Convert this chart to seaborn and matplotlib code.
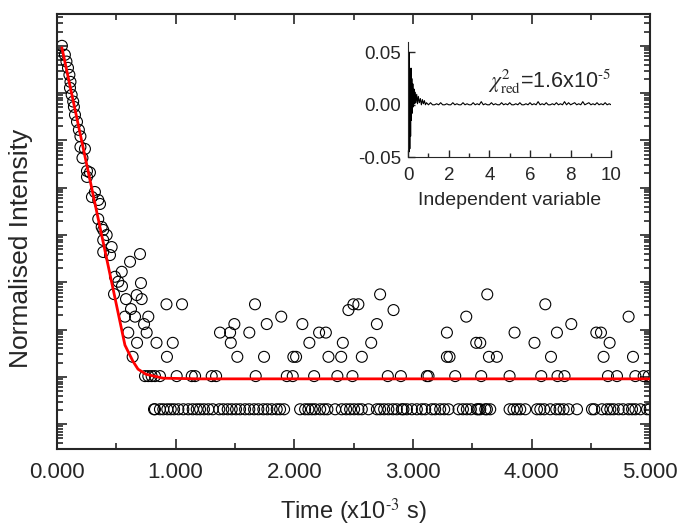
import matplotlib.pyplot as plt
import numpy as np
import pandas as pd
import seaborn as sns
from matplotlib.ticker import LogLocator, NullFormatter, MultipleLocator, FormatStrFormatter

# decay part of the measured trace (time in ms, normalised intensity)
decay_t = [0.042, 0.067, 0.080, 0.093, 0.105, 0.114, 0.110, 0.124, 0.137, 0.143,
           0.152, 0.169, 0.185, 0.198, 0.198, 0.236, 0.215, 0.253, 0.278, 0.253,
           0.320, 0.295, 0.348, 0.363, 0.348, 0.377, 0.390, 0.419, 0.390, 0.461,
           0.390, 0.447, 0.700, 0.616, 0.546, 0.489, 0.517, 0.548, 0.708, 0.481,
           0.672, 0.582, 0.714, 0.624]
decay_v = [1.0, 0.645, 0.465, 0.342, 0.243, 0.173, 0.129, 0.0918, 0.0663, 0.0512,
           0.0347, 0.0247, 0.0167, 0.0122, 0.00728, 0.00661, 0.00426, 0.00226, 0.00210, 0.00169,
           8.13e-4, 6.37e-4, 5.5e-4, 4.53e-4, 2.18e-4, 1.48e-4, 1.28e-4, 1.0e-4, 7.83e-5, 5.57e-5,
           4.37e-5, 3.77e-5, 3.96e-5, 2.72e-5, 1.67e-5, 1.31e-5, 1.03e-5, 8.33e-6, 9.64e-6, 5.64e-6,
           5.37e-6, 4.42e-6, 4.42e-6, 2.72e-6]

# background part: discrete intensity levels and the times found on each
floor_levels = [5.56e-6, 3.43e-6, 2.59e-6, 1.88e-6, 1.31e-6, 8.65e-7, 5.26e-7, 2.66e-7, 1.04e-7, 2.07e-8]
floor_times = [
    [2.723, 3.626],
    [0.923, 1.054, 1.669, 2.498, 2.540, 4.115],
    [2.456, 2.836],
    [0.573, 0.658, 0.770, 1.89, 3.449, 4.817],
    [0.734, 1.495, 1.768, 2.068, 2.696, 4.334],
    [0.601, 0.756, 1.374, 1.459, 1.621, 2.209, 2.266, 3.286, 3.856, 4.213, 4.545, 4.584],
    [0.675, 0.839, 0.976, 1.465, 2.127, 2.409, 2.648, 3.533, 3.567, 4.024, 4.657],
    [0.638, 0.927, 1.52, 1.745, 1.992, 2.015, 2.288, 2.395, 2.569, 3.286, 3.308, 3.64,
     3.707, 4.163, 4.606, 4.854],
    [0.742, 0.770, 0.798, 0.826, 0.868, 1.009, 1.136, 1.164, 1.304, 1.341, 1.675, 1.937,
     1.987, 2.167, 2.363, 2.490, 2.788, 2.898, 3.117, 3.131, 3.356, 3.575, 3.814, 4.081,
     4.218, 4.277, 4.643, 4.719, 4.874, 4.944, 4.986],
    [0.818, 0.826, 0.868, 0.896, 0.930, 0.959, 0.987, 1.023, 1.065, 1.107, 1.144, 1.178,
     1.206, 1.239, 1.276, 1.313, 1.368, 1.402, 1.439, 1.473, 1.509, 1.543, 1.585, 1.621,
     1.661, 1.697, 1.739, 1.773, 1.810, 1.852, 1.880, 1.914, 2.049, 2.091, 2.119, 2.148,
     2.175, 2.218, 2.251, 2.279, 2.344, 2.400, 2.437, 2.470, 2.504, 2.540, 2.569, 2.625,
     2.696, 2.723, 2.757, 2.793, 2.831, 2.864, 2.906, 2.920, 2.949, 2.991, 3.033, 3.075,
     3.103, 3.159, 3.187, 3.229, 3.263, 3.299, 3.384, 3.421, 3.454, 3.488, 3.539, 3.552,
     3.567, 3.609, 3.623, 3.651, 3.814, 3.847, 3.876, 3.904, 3.946, 4.045, 4.073, 4.106,
     4.157, 4.207, 4.235, 4.269, 4.311, 4.382, 4.508, 4.528, 4.593, 4.635, 4.663, 4.691,
     4.733, 4.770, 4.817, 4.846, 4.874, 4.916, 4.972, 4.995],
]

# fitted curve
fit_t = [0.042, 0.15, 0.30, 0.45, 0.573, 0.64, 0.683, 0.75, 0.894, 1.2, 5.0]
fit_v = [0.91, 0.048, 8.1e-4, 1.36e-5, 4.7e-7, 2.15e-7, 1.46e-7, 1.14e-7, 9.4e-8, 9.1e-8, 9.1e-8]

# residuals shown in the inset
res_t = [0.0, 0.02, 0.04, 0.06, 0.08, 0.10, 0.12, 0.14, 0.16, 0.18, 0.20, 0.23, 0.26,
         0.29, 0.32, 0.35, 0.38, 0.42, 0.46, 0.50, 0.55, 0.60, 0.65, 0.70, 0.75, 0.80,
         0.85, 0.90, 1.0,
         1.1, 1.2, 1.3, 1.4, 1.5, 1.6, 1.7, 1.8, 1.9, 2.0, 2.1, 2.2, 2.3, 2.4, 2.5, 2.6,
         2.7, 2.8, 2.9, 3.0, 3.1, 3.2, 3.3, 3.4, 3.5, 3.6, 3.7, 3.8, 3.9, 4.0, 4.1, 4.2,
         4.3, 4.4, 4.5, 4.6, 4.7, 4.8, 4.9, 5.0, 5.1, 5.2, 5.3, 5.4, 5.5, 5.6, 5.7, 5.8,
         5.9, 6.0, 6.1, 6.2, 6.3, 6.4, 6.5, 6.6, 6.7, 6.8, 6.9, 7.0, 7.1, 7.2, 7.3, 7.4,
         7.5, 7.6, 7.7, 7.8, 7.9, 8.0, 8.1, 8.2, 8.3, 8.4, 8.5, 8.6, 8.7, 8.8, 8.9, 9.0,
         9.1, 9.2, 9.3, 9.4, 9.5, 9.6, 9.7, 9.8, 9.9, 10.0]
res_v = [0.0, 0.048, -0.045, 0.05, -0.042, 0.03, -0.03, 0.035, -0.015, 0.025, -0.008, 0.02, -0.002,
         0.015, 0.001, 0.012, 0.002, 0.010, 0.001, 0.008, 0.002, 0.006, 0.0, 0.005, 0.001, 0.004,
         0.0, 0.002, 0.0,
         0.002, 0.0, 0.0, 0.001, 0.0, 0.002, 0.0, 0.0, 0.001, 0.0, 0.0, 0.002, 0.0, 0.001, 0.0, 0.0,
         0.002, 0.0, 0.001, 0.0, 0.0, 0.002, 0.0, 0.001, 0.0, 0.003, 0.0, 0.001, 0.0, 0.0, 0.002,
         0.0, 0.001, 0.0, 0.0, 0.002, 0.0, 0.001, 0.0, 0.002, 0.0, 0.0, 0.001, 0.0, 0.002, 0.0,
         0.0, 0.001, 0.0, 0.002, 0.0, 0.001, 0.0, 0.003, 0.0, 0.001, 0.0, 0.002, 0.0, 0.0, 0.001,
         0.0, 0.002, 0.0, 0.001, 0.0, 0.003, 0.0, 0.002, 0.0, 0.001, 0.002, 0.0, 0.001, 0.0,
         0.003, 0.0, 0.001, 0.002, 0.0, 0.001, 0.0, 0.002, 0.0, 0.001, 0.0, 0.002, 0.0, 0.001, 0.0]

pts = pd.concat(
    [pd.DataFrame({'t': decay_t, 'v': decay_v})] +
    [pd.DataFrame({'t': ts, 'v': lv}) for lv, ts in zip(floor_levels, floor_times)],
    ignore_index=True)
fit = pd.DataFrame({'t': fit_t, 'v': fit_v})
res = pd.DataFrame({'t': res_t, 'r': res_v})

sns.set_style('ticks')
plt.rcParams['font.family'] = ['Liberation Sans', 'DejaVu Sans']
plt.rcParams['mathtext.fontset'] = 'stix'
plt.rcParams['xtick.direction'] = 'in'
plt.rcParams['ytick.direction'] = 'in'

fig = plt.figure(figsize=(6.86, 5.31), dpi=100)
ax = fig.add_axes([0.083, 0.154, 0.865, 0.820])

sns.scatterplot(data=pts, x='t', y='v', ax=ax, marker='o', s=62,
                facecolor='none', edgecolor='black', linewidth=0.8, zorder=2)
sns.lineplot(data=fit, x='t', y='v', ax=ax, color='red', linewidth=2.0,
             sort=False, estimator=None, zorder=3)

ax.set_yscale('log')
ax.set_xlim(0, 5)
ax.set_ylim(2.96e-9, 4.75)
ax.xaxis.set_major_locator(MultipleLocator(1))
ax.xaxis.set_minor_locator(MultipleLocator(0.5))
ax.xaxis.set_major_formatter(FormatStrFormatter('%.3f'))
ax.yaxis.set_major_locator(LogLocator(base=10, numticks=20))
ax.yaxis.set_minor_locator(LogLocator(base=10, subs=np.arange(2, 10), numticks=20))
ax.yaxis.set_major_formatter(NullFormatter())
ax.yaxis.set_minor_formatter(NullFormatter())
ax.tick_params(which='both', top=True, right=True, width=1.2, labelsize=16)
ax.tick_params(which='major', length=7, pad=9)
ax.tick_params(which='minor', length=4)
for sp in ax.spines.values():
    sp.set_linewidth(1.5)
ax.set_xlabel('Time (x10$^{\\text{-3}}$ s)', fontsize=17, labelpad=10)
ax.set_ylabel('Normalised Intensity', fontsize=19)
ax.yaxis.set_label_coords(-0.040, 0.462)

# inset with the residuals
axi = fig.add_axes([0.595, 0.704, 0.296, 0.217])
sns.lineplot(data=res, x='t', y='r', ax=axi, color='black', linewidth=0.8,
             sort=False, estimator=None)
axi.set_xlim(0, 10)
axi.set_ylim(-0.05, 0.06)
axi.xaxis.set_major_locator(MultipleLocator(2))
axi.xaxis.set_minor_locator(MultipleLocator(1))
axi.yaxis.set_major_locator(MultipleLocator(0.05))
axi.yaxis.set_major_formatter(FormatStrFormatter('%.2f'))
axi.spines['top'].set_visible(False)
axi.spines['right'].set_visible(False)
axi.tick_params(which='both', labelsize=13.5, width=1)
axi.tick_params(which='major', length=5, pad=5)
axi.tick_params(axis='x', pad=7)
axi.tick_params(which='minor', length=3)
axi.set_xlabel('Independent variable', fontsize=14, labelpad=6)
axi.set_ylabel('')
axi.patch.set_alpha(0)
axi.text(10.0, 0.008, r'$\chi^{2}_{\mathrm{red}}$=1.6x10$^{\text{-5}}$', fontsize=15.5,
         ha='right', va='bottom')

fig.savefig('out.png', dpi=100)
